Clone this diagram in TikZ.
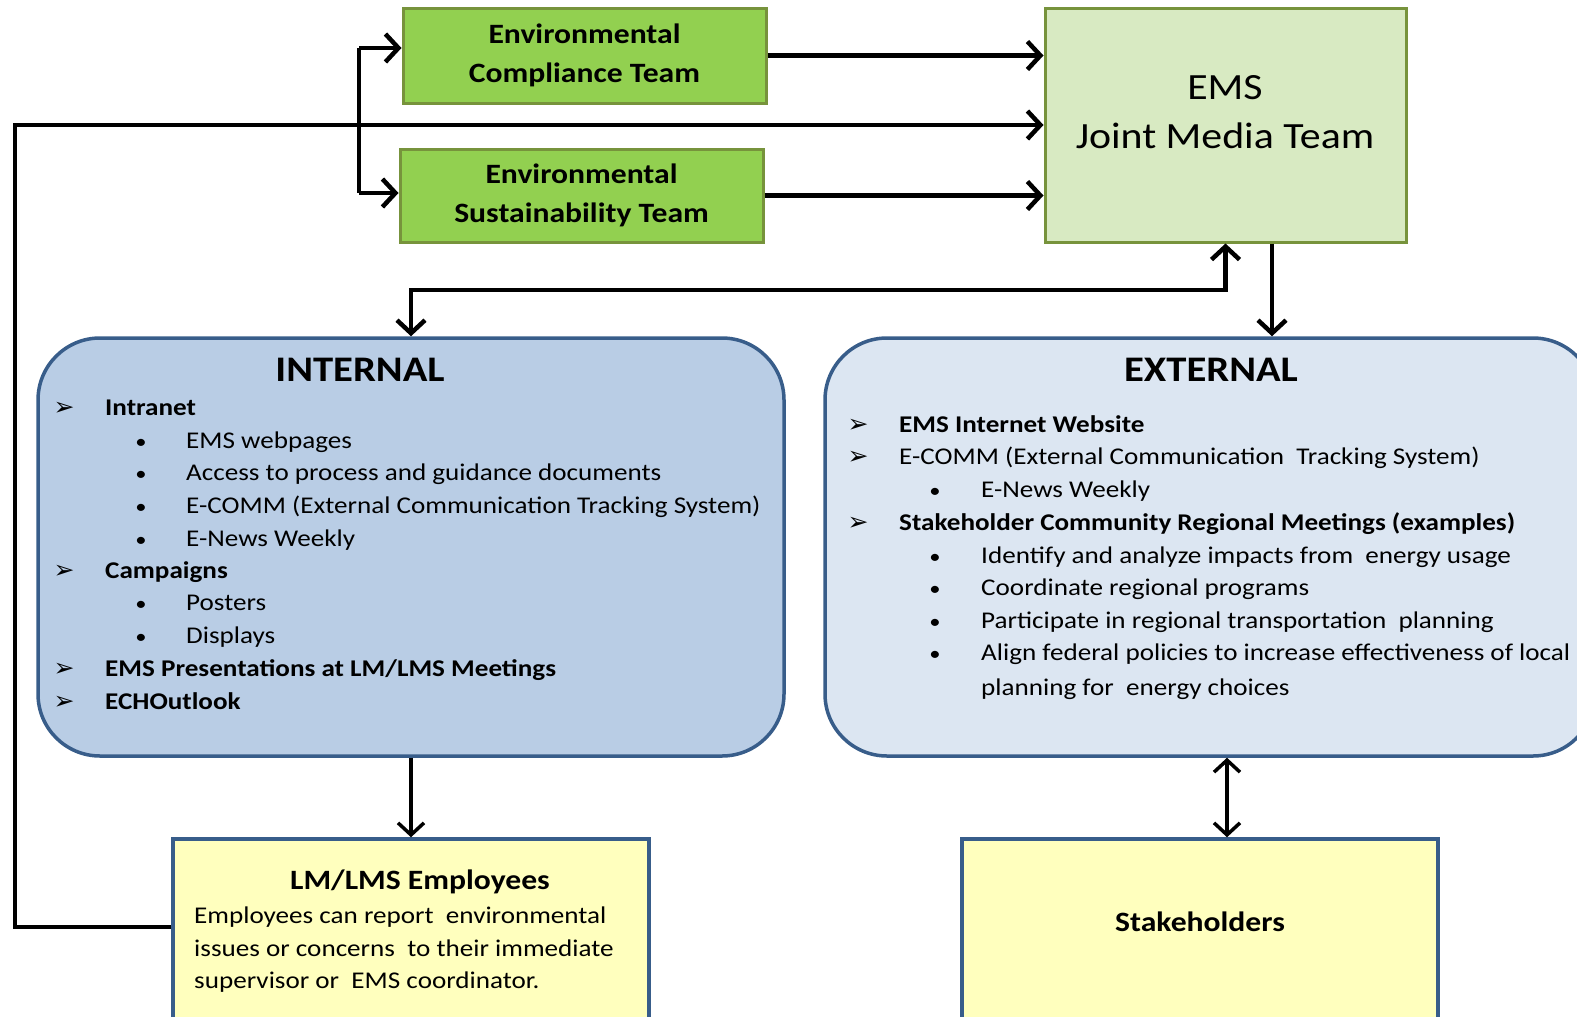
\documentclass[tikz,border=0pt]{standalone}
\usepackage{fontspec}
\setmainfont{Carlito}[FakeStretch=1.13]
\newfontfamily\symfont{DejaVu Sans}
\usetikzlibrary{arrows.meta,positioning}

\definecolor{teamgreen}{RGB}{146,208,80}
\definecolor{teamborder}{RGB}{119,147,60}
\definecolor{mediagreen}{RGB}{216,234,194}
\definecolor{intblue}{RGB}{185,205,229}
\definecolor{extblue}{RGB}{220,230,242}
\definecolor{boxborder}{RGB}{56,93,138}
\definecolor{staffyellow}{RGB}{255,255,190}

\tikzset{
  teambox/.style={draw=teamborder, line width=3pt, fill=teamgreen, inner sep=0pt,
    align=center, font=\fontsize{28}{39}\selectfont\bfseries},
  mediabox/.style={draw=teamborder, line width=3pt, fill=mediagreen, inner sep=0pt},
  listbox/.style={draw=boxborder, line width=3.5pt, rounded corners=62pt, inner sep=0pt},
  staffbox/.style={draw=boxborder, line width=3.5pt, fill=staffyellow, inner sep=0pt},
  heading/.style={inner sep=0pt, font=\fontsize{36}{40}\selectfont\bfseries},
  txt/.style={anchor=base west, inner sep=0pt, font=\fontsize{24}{29}\selectfont},
  txtb/.style={txt, font=\fontsize{24}{29}\selectfont\bfseries},
  tipmark/.style={anchor=base, inner sep=0pt, font=\symfont\fontsize{25}{29}\selectfont},
  dotmark/.style={anchor=base, inner sep=0pt, font=\fontsize{20}{24}\selectfont},
  flow/.style={line width=4.5pt, -{Straight Barb[length=13pt,width=28pt]}},
  thinflow/.style={line width=3.5pt, -{Straight Barb[length=12pt,width=26pt]}},
  line/.style={line width=4.5pt}
}

\begin{document}
\begin{tikzpicture}[x=1pt,y=1pt,yscale=-1,xscale=1]
\useasboundingbox (0,0) rectangle (1577,1017);
\clip (0,0) rectangle (1577,1017);

% teams
\node[teambox, minimum width=363pt, minimum height=95pt] (comp) at (584.5,55.5) {Environmental\\Compliance Team};
\node[teambox, minimum width=363pt, minimum height=93pt] (sust) at (581.5,195.5) {Environmental\\Sustainability Team};
\node[mediabox, minimum width=361pt, minimum height=234pt] (ems) at (1225.5,125) {};
\node[inner sep=0pt, align=center, font=\fontsize{37}{49}\selectfont] (emstext) at (1225,112) {EMS\\Joint Media Team};

% internal / external
\node[listbox, fill=intblue, minimum width=746pt, minimum height=418pt] (int) at (411,547) {};
\node[listbox, fill=extblue, minimum width=770pt, minimum height=418pt] (ext) at (1210,547) {};
\node[heading] (inthead) at (360,370) {INTERNAL};
\node[heading] (exthead) at (1211,370) {EXTERNAL};

% internal list
\foreach \n/\y/\t in {a/407/Intranet, b/570/Campaigns, c/668/{EMS Presentations at LM/LMS Meetings}, d/701/ECHOutlook}{
  \node[tipmark] (int-tip-\n) at (64,\y+8) {➢};
  \node[txtb] (int-\n) at (105,\y+8) {\t};
}
\foreach \n/\y/\t in {a/440/EMS webpages, b/472/Access to process and guidance documents,
    c/505/{E-COMM (External Communication  Tracking System)}, d/538/E-News Weekly, e/602/Posters, f/635/Displays}{
  \node[dotmark] (int-dot-\n) at (141,\y+8) {•};
  \node[txt] (int-sub-\n) at (186,\y+8) {\t};
}

% external list
\foreach \n/\y in {a/424, b/456, c/522}{
  \node[tipmark] (ext-tip-\n) at (858,\y+8) {➢};
}
\node[txtb] (ext-a) at (899,432) {EMS Internet Website};
\node[txt] (ext-b) at (899,464) {E-COMM (External Communication \ Tracking System)};
\node[txtb] (ext-c) at (899,530) {Stakeholder Community Regional Meetings (examples)};
\foreach \n/\y/\t in {a/489/E-News Weekly, b/555/Identify and analyze impacts from \ energy usage,
    c/587/Coordinate regional programs, d/620/Participate in regional transportation \ planning,
    e/652/Align federal policies to increase effectiveness of local}{
  \node[dotmark] (ext-dot-\n) at (935,\y+8) {•};
  \node[txt] (ext-sub-\n) at (981,\y+8) {\t};
}
\node[txt] (ext-sub-f) at (981,695) {planning for \ energy choices};

% employees / stakeholders
\node[staffbox, minimum width=476pt, minimum height=202pt] (lm) at (411,940) {};
\node[staffbox, minimum width=476pt, minimum height=202pt] (stk) at (1200,940) {};
\node[inner sep=0pt, anchor=base, font=\fontsize{28}{34}\selectfont\bfseries] (lmtitle) at (420,889) {LM/LMS Employees};
\node[txt] (lm-a) at (194,923) {Employees can report \ environmental};
\node[txt] (lm-b) at (194,956) {issues or concerns \ to their immediate};
\node[txt] (lm-c) at (194,988) {supervisor or \ EMS coordinator.};
\node[inner sep=0pt, font=\fontsize{28}{34}\selectfont\bfseries] (stktitle) at (1200,922) {Stakeholders};

% connectors
\coordinate (fbl) at (15,927);
\coordinate (fbt) at (15,125);
\coordinate (brt) at (359,48);
\coordinate (brb) at (359,193);
\coordinate (mid) at (0,290);
\coordinate (exx) at (1272,0);
\coordinate (stx) at (1227,0);

\draw[flow] (lm.west |- fbl) -- (fbl) -- (fbt) -- (fbt -| ems.west);
\draw[line] (brt) -- (brb);
\draw[flow] (brt) -- (brt -| comp.west);
\draw[flow] (brb) -- (brb -| sust.west);
\draw[flow] (comp.east) -- (comp.east -| ems.west);
\draw[flow] (sust.east) -- (sust.east -| ems.west);
\draw[flow, {Straight Barb[length=13pt,width=28pt]}-{Straight Barb[length=13pt,width=28pt]}] (ems.south) |- (mid -| int.north) -- (int.north);
\draw[flow] (ems.south -| exx) -- (ext.north -| exx);
\draw[thinflow] (int.south) -- (lm.north);
\draw[thinflow, {Straight Barb[length=12pt,width=26pt]}-{Straight Barb[length=12pt,width=26pt]}] (ext.south -| stx) -- (stk.north -| stx);

\end{tikzpicture}
\end{document}
